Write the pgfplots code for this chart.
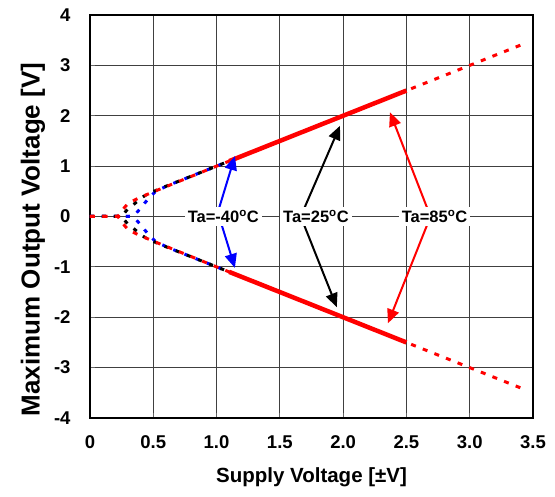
\documentclass[border=0pt]{standalone}
\usepackage{pgfplots}
\pgfplotsset{compat=1.18}
\usetikzlibrary{arrows.meta}
\usepackage{fontspec}
\setmainfont{Liberation Sans}

\definecolor{tblue}{RGB}{0,0,255}
\definecolor{tred}{RGB}{255,0,0}

\begin{document}
\begin{tikzpicture}
\useasboundingbox (-90pt,-79pt) rectangle (465pt,418pt);
\begin{axis}[
    scale only axis,
    width=443pt, height=403pt,
    xmin=0, xmax=3.5, ymin=-4, ymax=4,
    xtick={0,0.5,1,1.5,2,2.5,3,3.5},
    xticklabels={0,0.5,1.0,1.5,2.0,2.5,3.0,3.5},
    ytick={-4,-3,-2,-1,0,1,2,3,4},
    yticklabels={-4,-3,-2,-1,0,1,2,3,4},
    grid=major,
    major grid style={black!75, line width=0.8pt},
    axis line style={black, line width=1.6pt},
    tick align=inside, major tick length=5pt,
    tick style={black!60, line width=0.8pt},
    xtick pos=bottom, ytick pos=left,
    tick label style={font=\bfseries\fontsize{18.5}{20}\selectfont},
    xticklabel style={yshift=-14pt},
    yticklabel style={xshift=-16pt},
    xlabel={Supply Voltage [±V]},
    ylabel={Maximum Output Voltage [V]},
    xlabel style={font=\bfseries\fontsize{20.5}{22}\selectfont, yshift=-12pt},
    ylabel style={font=\bfseries\fontsize{26}{28}\selectfont, yshift=2pt, xshift=-23pt},
    clip=true,
]
% Ta=-40C
\addplot[tblue, line width=3pt, dash pattern=on 4pt off 8pt] coordinates {
 (0,0) (0.33,0) (0.36,0.05) (0.395,0.15) (0.43,0.26) (0.47,0.38) (0.52,0.5) (0.62,0.62) (1.1,1.1)};
\addplot[tblue, line width=3pt, dash pattern=on 4pt off 8pt] coordinates {
 (0,0) (0.33,0) (0.36,-0.05) (0.395,-0.15) (0.43,-0.26) (0.47,-0.38) (0.52,-0.5) (0.62,-0.62) (1.1,-1.1)};
% Ta=25C
\addplot[black, line width=3pt, dash pattern=on 4pt off 8pt] coordinates {
 (0,0) (0.22,0) (0.26,0.04) (0.3,0.15) (0.355,0.26) (0.4,0.36) (0.45,0.44) (0.55,0.55) (1.1,1.1)};
\addplot[black, line width=3pt, dash pattern=on 4pt off 8pt] coordinates {
 (0,0) (0.22,0) (0.26,-0.04) (0.3,-0.15) (0.355,-0.26) (0.4,-0.36) (0.45,-0.44) (0.55,-0.55) (1.1,-1.1)};
% Ta=85C
\addplot[tred, line width=3pt, dash pattern=on 5pt off 7.5pt] coordinates {
 (0,0) (0.22,0) (0.26,0.14) (0.3,0.26) (0.38,0.36) (0.5,0.49) (1.0,1.0) (2.0,2.0) (3.0,3.0) (3.44,3.44)};
\addplot[tred, line width=3pt, dash pattern=on 5pt off 7.5pt] coordinates {
 (0,0) (0.22,0) (0.26,-0.14) (0.3,-0.26) (0.38,-0.36) (0.5,-0.49) (1.0,-1.0) (2.0,-2.0) (3.0,-3.0) (3.44,-3.44)};
% guaranteed range
\addplot[tred, line width=4.5pt] coordinates {(1.1,1.1) (2.5,2.5)};
\addplot[tred, line width=4.5pt] coordinates {(1.1,-1.1) (2.5,-2.5)};

% annotations
\draw[tblue, line width=2pt, -{Triangle[length=14pt,width=12pt]}] (axis cs:1.0,0) -- (axis cs:1.145,1.2);
\draw[tblue, line width=2pt, -{Triangle[length=14pt,width=12pt]}] (axis cs:1.02,0) -- (axis cs:1.145,-1.02);
\draw[black, line width=2pt, -{Triangle[length=14pt,width=12pt]}] (axis cs:1.665,0) -- (axis cs:1.975,1.8);
\draw[black, line width=2pt, -{Triangle[length=14pt,width=12pt]}] (axis cs:1.665,0) -- (axis cs:1.95,-1.8);
\draw[tred, line width=2pt, -{Triangle[length=14pt,width=12pt]}] (axis cs:2.69,0) -- (axis cs:2.37,2.07);
\draw[tred, line width=2pt, -{Triangle[length=14pt,width=12pt]}] (axis cs:2.69,0) -- (axis cs:2.354,-2.12);

\node[fill=white, inner sep=3pt, font=\bfseries\fontsize{16.5}{18}\selectfont] at (axis cs:1.053,0) {Ta=-40\textsuperscript{o}C};
\node[fill=white, inner sep=3pt, font=\bfseries\fontsize{16.5}{18}\selectfont] at (axis cs:1.785,0) {Ta=25\textsuperscript{o}C};
\node[fill=white, inner sep=3pt, font=\bfseries\fontsize{16.5}{18}\selectfont] at (axis cs:2.722,0) {Ta=85\textsuperscript{o}C};
\end{axis}
\end{tikzpicture}
\end{document}
